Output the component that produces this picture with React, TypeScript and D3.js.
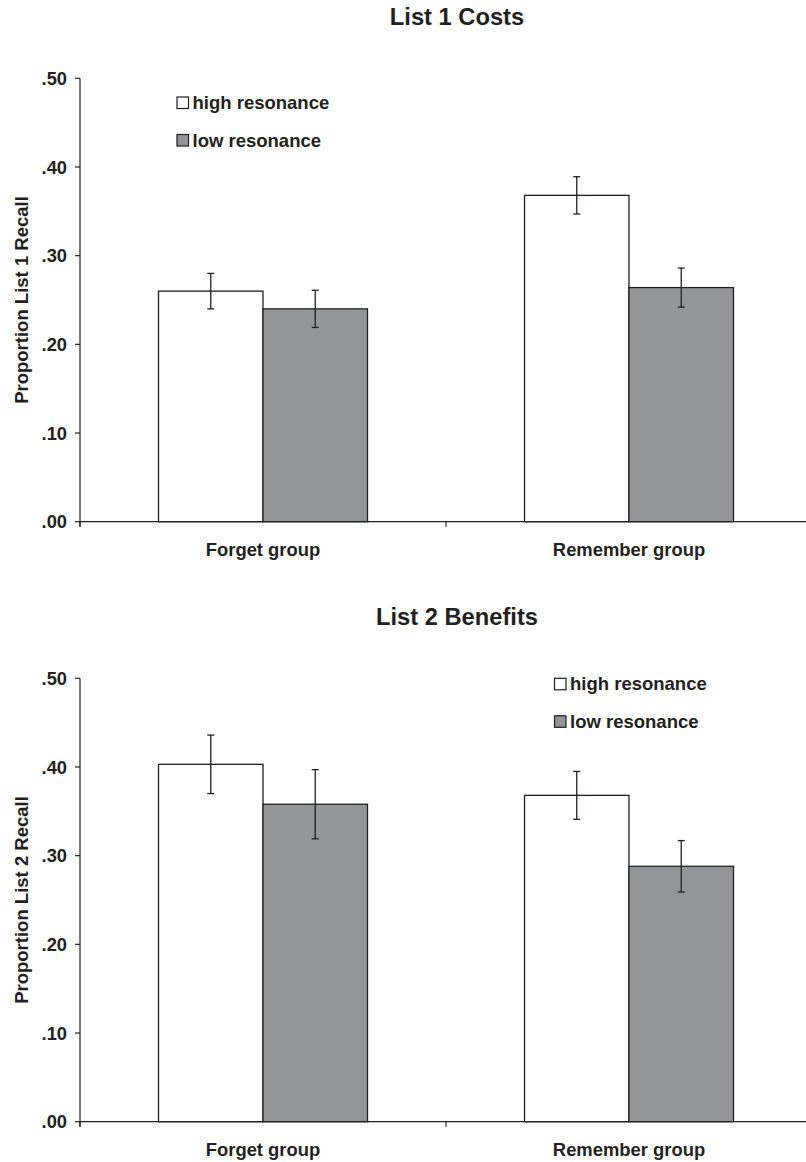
import React from "react";
import * as d3 from "d3";

const categories = ["Forget group", "Remember group"];
const seriesNames = ["high resonance", "low resonance"];
const seriesFills = ["#ffffff", "#949599"];

const list1High = [0.26, 0.368];
const list1HighErr = [0.02, 0.021];
const list1Low = [0.24, 0.264];
const list1LowErr = [0.021, 0.022];

const list2High = [0.403, 0.368];
const list2HighErr = [0.033, 0.027];
const list2Low = [0.358, 0.288];
const list2LowErr = [0.039, 0.029];

const yTicks = [0, 0.1, 0.2, 0.3, 0.4, 0.5];

const W = 806;
const H = 1162;
const INK = "#231f20";
const FONT = "'Liberation Sans', Arial, Helvetica, sans-serif";

const fmt = (v: number) => d3.format(".2f")(v).replace(/^0/, "");

type PanelProps = {
  offsetY: number;
  title: string;
  yLabel: string;
  high: number[];
  highErr: number[];
  low: number[];
  lowErr: number[];
  legendX: number;
  legendY: number;
};

function Panel({ offsetY, title, yLabel, high, highErr, low, lowErr, legendX, legendY }: PanelProps) {
  const top = 78.3;
  const bottom = 521.7;
  const left = 80;
  const right = 812;
  const y = d3.scaleLinear().domain([0, 0.5]).range([bottom, top]);
  const x0 = d3.scaleBand<string>().domain(categories).range([left, right]).paddingInner(0).paddingOuter(0);
  const bw = x0.bandwidth();
  const x1 = d3.scaleBand<string>().domain(seriesNames).range([bw * 0.2145, bw * 0.7855]).paddingInner(0);
  const values = [high, low];
  const errs = [highErr, lowErr];
  const boundaries = [left, ...categories.map((c) => (x0(c) as number) + bw)];

  return (
    <g transform={`translate(0,${offsetY})`}>
      <text x={457} y={25} textAnchor="middle" fontSize={23.7} fontWeight="bold" fill={INK} fontFamily={FONT}>
        {title}
      </text>
      {/* y axis */}
      <line x1={left} x2={left} y1={top} y2={bottom + 5} stroke={INK} strokeWidth={1.2} />
      {yTicks.map((t) => (
        <g key={t}>
          <line x1={left - 5} x2={left} y1={y(t)} y2={y(t)} stroke={INK} strokeWidth={1.2} />
          <text x={67} y={y(t)} dy="0.36em" textAnchor="end" fontSize={18.3} fontWeight="bold" fill={INK} fontFamily={FONT}>
            {fmt(t)}
          </text>
        </g>
      ))}
      <text
        transform={`translate(28,${(top + bottom) / 2}) rotate(-90)`}
        textAnchor="middle"
        fontSize={18.5}
        fontWeight="bold"
        fill={INK}
        fontFamily={FONT}
      >
        {yLabel}
      </text>
      {/* bars */}
      {categories.map((c, ci) =>
        seriesNames.map((s, si) => {
          const bx = (x0(c) as number) + (x1(s) as number);
          const v = values[si][ci];
          return (
            <rect
              key={c + s}
              x={bx}
              y={y(v)}
              width={x1.bandwidth()}
              height={bottom - y(v)}
              fill={seriesFills[si]}
              stroke={INK}
              strokeWidth={1.3}
            />
          );
        })
      )}
      {/* x axis */}
      <line x1={left} x2={right} y1={bottom} y2={bottom} stroke={INK} strokeWidth={1.2} />
      {boundaries.map((b, i) => (
        <line key={i} x1={b} x2={b} y1={bottom} y2={bottom + 5} stroke={INK} strokeWidth={1.2} />
      ))}
      {categories.map((c) => (
        <text
          key={c}
          x={(x0(c) as number) + bw / 2}
          y={bottom + 34.5}
          textAnchor="middle"
          fontSize={18.4}
          fontWeight="bold"
          fill={INK}
          fontFamily={FONT}
        >
          {c}
        </text>
      ))}
      {/* error bars */}
      {categories.map((c, ci) =>
        seriesNames.map((s, si) => {
          const cx = (x0(c) as number) + (x1(s) as number) + x1.bandwidth() / 2;
          const v = values[si][ci];
          const e = errs[si][ci];
          return (
            <g key={"e" + c + s} stroke={INK} strokeWidth={1.3}>
              <line x1={cx} x2={cx} y1={y(v + e)} y2={y(v - e)} />
              <line x1={cx - 3.5} x2={cx + 3.5} y1={y(v + e)} y2={y(v + e)} />
              <line x1={cx - 3.5} x2={cx + 3.5} y1={y(v - e)} y2={y(v - e)} />
            </g>
          );
        })
      )}
      {/* legend */}
      {seriesNames.map((s, si) => (
        <g key={"l" + s} transform={`translate(${legendX},${legendY + si * 37.5})`}>
          <rect x={0} y={0} width={11.5} height={11.5} fill={seriesFills[si]} stroke={INK} strokeWidth={1.2} />
          <text x={15.5} y={12} fontSize={18.5} fontWeight="bold" fill={INK} fontFamily={FONT}>
            {s}
          </text>
        </g>
      ))}
    </g>
  );
}

export default function App() {
  return (
    <svg width={W} height={H} style={{ position: "absolute", left: 0, top: 0, background: "#fff" }}>
      <rect x={0} y={0} width={W} height={H} fill="#fff" />
      <Panel
        offsetY={0}
        title="List 1 Costs"
        yLabel="Proportion List 1 Recall"
        high={list1High}
        highErr={list1HighErr}
        low={list1Low}
        lowErr={list1LowErr}
        legendX={177}
        legendY={97}
      />
      <Panel
        offsetY={600}
        title="List 2 Benefits"
        yLabel="Proportion List 2 Recall"
        high={list2High}
        highErr={list2HighErr}
        low={list2Low}
        lowErr={list2LowErr}
        legendX={554.5}
        legendY={78.3}
      />
    </svg>
  );
}
